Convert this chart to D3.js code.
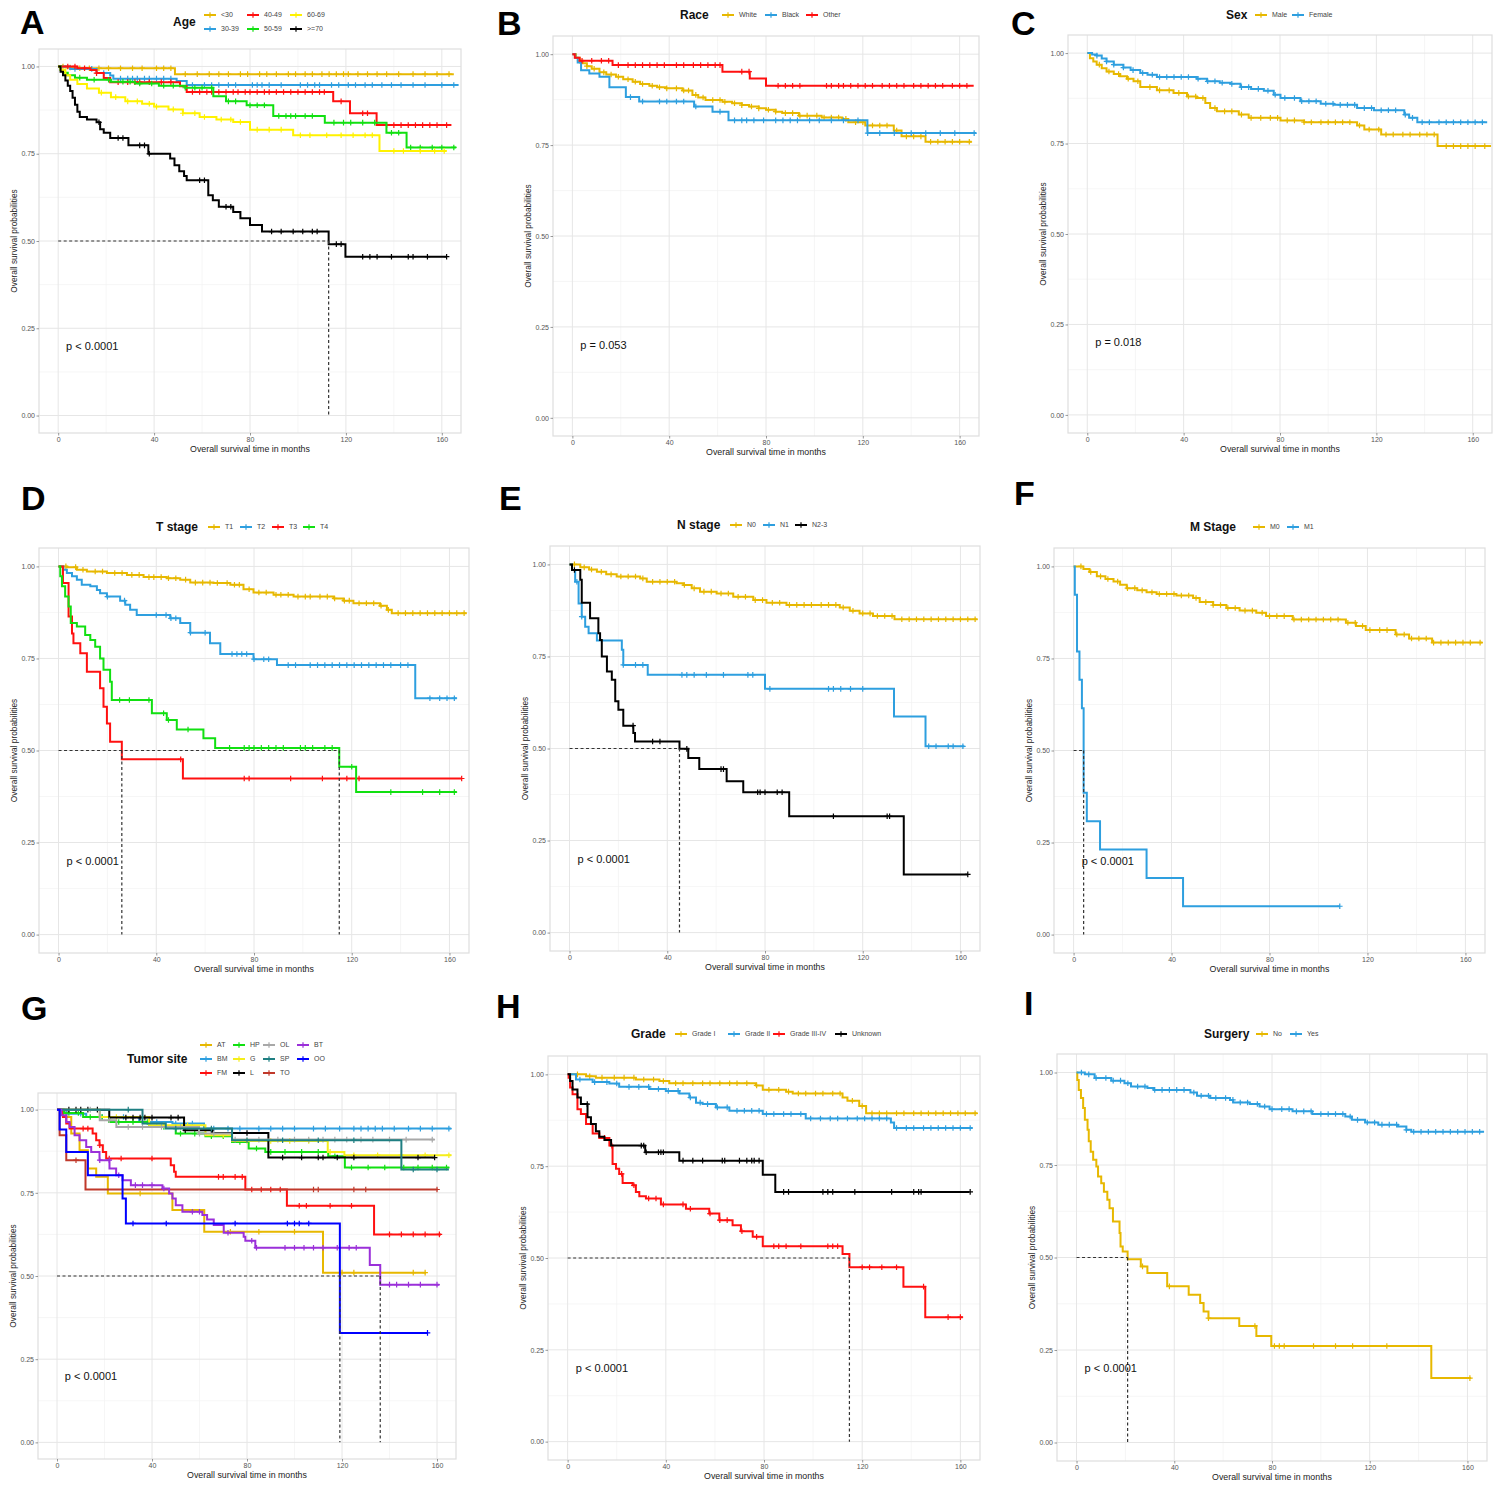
<!DOCTYPE html>
<html>
<head>
<meta charset="utf-8">
<script src="https://cdn.jsdelivr.net/npm/d3@7"></script>
<style>
body { margin:0; background:#fff; }
svg { font-family:"Liberation Sans", Arial, sans-serif; }
</style>
</head>
<body>
<svg id="fig" width="1502" height="1485"></svg>
<script>
// axis ticks shared by every panel
var xTicks = [0, 40, 80, 120, 160];
var xMinor = [20, 60, 100, 140];
var yTicks = [0, 0.25, 0.5, 0.75, 1];
var yMinor = [0.125, 0.375, 0.625, 0.875];
var xTitle = "Overall survival time in months";
var yTitle = "Overall survival probabilities";

// ---- A: Age ----
var ageLabels = ["<30", "30-39", "40-49", "50-59", "60-69", ">=70"];
var ageColors = ["#E7B800", "#2E9FDF", "#FF1010", "#11E011", "#FFF200", "#000000"];
var aLt30 = [[0,1],[3,0.997],[8,0.995],[48.7,0.978],[165,0.978]];
var a3039 = [[0,1],[5,0.993],[16,0.981],[21.7,0.974],[23,0.965],[49.4,0.958],[53.6,0.947],[167,0.947]];
var a4049 = [[0,1],[8,0.995],[13.5,0.99],[16,0.981],[19,0.967],[21.7,0.955],[50.8,0.943],[53.6,0.927],[114.7,0.9],[121.7,0.866],[132.8,0.832],[164,0.832]];
var a5059 = [[0,1],[1,0.99],[2,0.982],[4,0.975],[7,0.968],[12,0.962],[22,0.956],[32,0.951],[42,0.945],[53,0.939],[64.7,0.915],[70,0.9],[78.6,0.889],[89.7,0.858],[111.2,0.839],[136.9,0.81],[145.3,0.768],[166,0.768]];
var a6069 = [[0,1],[1,0.99],[3,0.975],[5,0.962],[8,0.95],[12,0.937],[17,0.925],[22,0.912],[28,0.9],[35,0.893],[40,0.885],[46,0.877],[52,0.866],[59,0.855],[66,0.848],[73,0.841],[80,0.819],[98,0.803],[134,0.758],[162,0.758]];
var a70 = [[0,1],[1,0.985],[2,0.975],[3,0.96],[4,0.945],[5,0.93],[6,0.91],[7,0.89],[8,0.87],[9,0.855],[12,0.848],[16,0.84],[17.5,0.82],[19,0.81],[21.7,0.795],[29.3,0.774],[37.6,0.75],[46.7,0.736],[48.5,0.717],[50.5,0.7],[52.5,0.686],[53.6,0.674],[62.6,0.631],[64.5,0.617],[67,0.598],[73,0.583],[76,0.565],[80,0.546],[85,0.527],[112.8,0.491],[119.8,0.455],[162,0.455]];
var aLt30Cens = [2,5,9,13,17,21,26,31,35,41,44,47,53,58,63,67,71,76,79,84,87,91,96,99,103,106,110,113,116,119,121,125,129,133,137,142,148,153,158,163];
var a3039Cens = [7,14,19,26,29,31,33,36,38,41,44,47,56,61,64,67,71,74,81,83,85,88,93,101,104,107,109,114,117,121,124,128,131,135,139,143,148,153,160,165];
var a4049Cens = [4,7,11,16,25,29,32,34,38,43,47,56,59,62,64,67,70,73,75,78,80,83,86,88,91,94,97,100,103,106,109,111,118,127,129,137,140,143,146,149,152,155,158,162];
var a5059Cens = [9,15,21,27,30,34,39,44,48,53,57,60,64,71,74,80,83,86,92,95,97,99,103,106,115,119,122,127,132,139,142,147,151,156,160,165];
var a6069Cens = [18,24,29,33,38,41,48,52,57,61,68,72,76,83,88,93,101,105,112,118,123,128,131,140,144,151,157,161];
var a70Cens = [17,25,27,34,36,38,59,61,70,72,89,93,98,102,106,108,116,118,127,130,133,139,146,148,154,162];

// ---- B: Race ----
var raceLabels = ["White", "Black", "Other"];
var raceColors = ["#E7B800", "#2E9FDF", "#FF1010"];
var bWhite = [[0,1],[1.5,0.99],[3,0.982],[4.3,0.975],[6,0.967],[8,0.96],[11.2,0.95],[14,0.944],[18,0.938],[21,0.931],[24.9,0.924],[28,0.918],[31.8,0.913],[35,0.909],[38.6,0.906],[45.5,0.9],[49.6,0.888],[52,0.881],[55,0.874],[62,0.869],[66,0.865],[70,0.86],[73,0.856],[77,0.851],[80,0.847],[84,0.842],[86.7,0.838],[93.6,0.831],[103,0.826],[111.5,0.822],[114,0.813],[121,0.804],[132.8,0.79],[136,0.774],[145.9,0.759],[165,0.759]];
var bBlack = [[0,1],[1.2,0.99],[2.2,0.977],[3.6,0.956],[7,0.947],[11.2,0.938],[15.3,0.909],[22.1,0.882],[27.6,0.87],[50.3,0.856],[57.9,0.842],[64.5,0.818],[121.9,0.783],[166.8,0.783]];
var bOther = [[0,1],[1,0.99],[3,0.982],[16.6,0.97],[62,0.952],[73.3,0.933],[80,0.913],[165.8,0.913]];
var bWhiteCens = [3,6,9,13,16,19,23,26,29,33,36,39,43,46,48,51,54,58,61,63,67,70,74,77,81,84,88,91,94,97,101,104,107,110,113,117,120,124,127,130,134,138,141,144,148,151,154,157,160,164];
var bBlackCens = [24,29,36,39,43,46,51,61,67,70,72,75,79,84,87,90,93,98,102,107,112,118,122,127,133,140,146,152,158,166];
var bOtherCens = [4,8,12,15,19,23,26,29,32,35,38,43,46,50,53,56,59,61,70,73,85,88,91,94,105,107,110,112,115,118,121,124,128,131,134,137,141,144,147,150,153,157,160,163];

// ---- C: Sex ----
var sexLabels = ["Male", "Female"];
var sexColors = ["#E7B800", "#2E9FDF"];
var cMale = [[0,1],[1.1,0.986],[2.5,0.977],[3.9,0.968],[6,0.958],[8,0.949],[11,0.942],[13.6,0.936],[16.5,0.929],[19.2,0.922],[22,0.906],[28.9,0.897],[35.8,0.89],[41.4,0.88],[45.5,0.876],[49,0.862],[51,0.848],[53.8,0.839],[62.9,0.83],[67,0.821],[80.2,0.814],[90,0.809],[112,0.8],[115,0.789],[122,0.775],[145.4,0.743],[167.6,0.743]];
var cFemale = [[0,1],[2,0.996],[3.9,0.993],[6,0.985],[8,0.977],[11,0.968],[15,0.96],[18,0.953],[22,0.945],[25,0.94],[28.9,0.934],[45.5,0.929],[49.7,0.922],[55,0.918],[59.4,0.915],[63.6,0.906],[68,0.901],[73.3,0.896],[77.4,0.885],[80.2,0.876],[88.5,0.867],[96.9,0.86],[102.4,0.857],[112,0.848],[119,0.842],[131.6,0.83],[133.6,0.821],[137,0.809],[166,0.809]];
var cMaleCens = [5,9,13,17,21,26,30,34,38,42,45,48,53,57,60,64,68,72,76,79,83,86,90,93,97,100,103,106,109,113,117,121,124,127,131,134,138,141,144,149,152,155,158,161,165];
var cFemaleCens = [4,8,11,15,19,23,27,30,33,36,39,42,46,50,53,56,60,64,67,71,75,78,82,86,89,92,95,99,102,105,108,111,115,118,122,125,128,132,135,139,142,146,149,152,155,158,161,164];

// ---- D: T stage ----
var tLabels = ["T1", "T2", "T3", "T4"];
var tColors = ["#E7B800", "#2E9FDF", "#FF1010", "#11E011"];
var dT1 = [[0,1],[3.4,0.998],[7.5,0.991],[11.6,0.986],[19.8,0.982],[28,0.977],[34.8,0.971],[44.3,0.968],[49.8,0.964],[53.9,0.956],[63.4,0.955],[70.3,0.95],[75.7,0.938],[79.8,0.929],[88,0.923],[96.2,0.918],[112.6,0.913],[116.6,0.907],[120.7,0.9],[131.6,0.893],[134.4,0.882],[136.4,0.873],[167,0.873]];
var dT2 = [[0,1],[2,0.991],[3.4,0.982],[5.5,0.973],[7.5,0.964],[9.5,0.95],[13,0.946],[15.7,0.936],[17,0.927],[19.8,0.918],[25.2,0.907],[27.3,0.896],[29.3,0.882],[32,0.868],[45.7,0.859],[49.8,0.846],[53.9,0.82],[62,0.791],[66.2,0.762],[79.8,0.748],[89.4,0.732],[146,0.642],[163,0.642]];
var dT3 = [[0,1],[1.8,0.955],[4.1,0.864],[5.5,0.818],[6.1,0.791],[8.9,0.764],[11.6,0.714],[17,0.669],[18.4,0.619],[19.8,0.573],[21.1,0.524],[25.9,0.476],[50.9,0.424],[165,0.424]];
var dT4 = [[0,1],[0.7,0.973],[1.4,0.946],[2.7,0.918],[4.1,0.891],[5,0.846],[7.5,0.837],[10.9,0.814],[13,0.8],[15,0.782],[17,0.75],[18.4,0.719],[21.1,0.687],[21.8,0.637],[38.2,0.601],[44.3,0.583],[48.4,0.557],[59.3,0.533],[64.1,0.507],[114.9,0.456],[121.8,0.387],[163,0.387]];
var dT1Cens = [3,7,10,15,18,23,26,30,33,37,39,42,45,48,52,56,59,62,65,69,72,74,78,82,85,89,91,94,98,101,103,107,110,113,117,119,123,126,129,132,135,139,142,145,148,151,154,157,160,163,166];
var dT2Cens = [20,27,40,44,46,48,54,60,71,73,75,77,80,84,86,94,97,103,106,109,112,115,118,121,124,127,130,133,136,140,143,152,156,159,162];
var dT3Cens = [50,76,78,95,108,118,123,165];
var dT4Cens = [25,29,37,43,45,53,70,76,78,80,83,86,89,92,99,101,104,109,112,120,136,149,156,162];

// ---- E: N stage ----
var nLabels = ["N0", "N1", "N2-3"];
var nColors = ["#E7B800", "#2E9FDF", "#000000"];
var eN0 = [[0,1],[4.4,0.992],[8,0.986],[11.2,0.98],[15,0.973],[19.3,0.967],[28.9,0.962],[31.6,0.953],[43.8,0.949],[46.6,0.944],[50,0.935],[53.4,0.926],[60.2,0.921],[67,0.912],[75.2,0.903],[80.6,0.896],[88.8,0.89],[110.6,0.883],[114.7,0.874],[118.7,0.867],[124.2,0.86],[133,0.851],[167,0.851]];
var eN1 = [[0,1],[1,0.985],[2.3,0.953],[3.7,0.894],[5,0.858],[6.4,0.831],[7.8,0.813],[11.2,0.793],[21.4,0.768],[22,0.727],[32,0.7],[80,0.662],[132.8,0.587],[145.7,0.506],[161.6,0.506]];
var eN23 = [[0,1],[1,0.985],[4.4,0.958],[5,0.896],[8.4,0.854],[11.8,0.813],[12.5,0.795],[13.2,0.75],[15.3,0.709],[17.3,0.687],[18.7,0.628],[20,0.605],[22,0.562],[26.1,0.542],[26.8,0.519],[45,0.499],[48.6,0.474],[53.1,0.444],[64.3,0.411],[71.1,0.381],[89.9,0.316],[136.8,0.158],[163,0.158]];
var eN0Cens = [2,6,9,13,17,21,24,27,30,34,37,40,43,47,51,55,58,62,65,69,72,76,79,83,86,90,93,96,99,103,106,109,112,116,120,123,126,129,132,136,139,142,145,148,151,154,157,160,163,166];
var eN1Cens = [3,5,22,27,30,46,48,51,56,63,73,75,82,106,108,111,115,120,147,150,155,157,161];
var eN23Cens = [2,26,34,37,48,62,63,77,78,80,85,87,108,130,131,163];

// ---- F: M stage ----
var mLabels = ["M0", "M1"];
var mColors = ["#E7B800", "#2E9FDF"];
var fM0 = [[0,1],[4,0.993],[6.5,0.985],[9.5,0.973],[13,0.966],[16.3,0.959],[19,0.95],[21.7,0.941],[26,0.935],[29.8,0.93],[33.9,0.925],[42,0.921],[48.8,0.914],[51.5,0.903],[57,0.895],[62.4,0.887],[67.8,0.88],[74.6,0.874],[78.6,0.865],[89.5,0.856],[111.2,0.847],[115.3,0.838],[119.3,0.827],[131.5,0.815],[137,0.804],[146.4,0.793],[167,0.793]];
var fM1 = [[0,1],[0.5,0.923],[1.4,0.769],[2.4,0.692],[3.4,0.615],[4.1,0.385],[5.4,0.308],[10.8,0.231],[29.8,0.154],[44.7,0.077],[108.7,0.077]];
var fM0Cens = [3,7,11,14,18,22,25,28,32,35,38,41,44,47,50,54,57,60,63,66,70,73,77,80,83,86,90,93,96,99,102,105,108,112,115,118,121,125,128,132,135,138,141,144,147,150,153,156,159,162,166];
var fM1Cens = [108.7];

// ---- G: Tumor site ----
var siteLabels = ["AT", "BM", "FM", "HP", "G", "L", "OL", "SP", "TO", "BT", "OO"];
var siteColors = ["#E7B800", "#2E9FDF", "#FF1010", "#11E011", "#F5EE1A", "#000000", "#A8A8A8", "#1F7F82", "#C0392B", "#9B30D9", "#0000FF"];
var gAT = [[0,1],[4,0.978],[6,0.928],[9.5,0.878],[13,0.823],[16.5,0.798],[21.4,0.748],[48.6,0.698],[62,0.633],[112,0.51],[155.4,0.51]];
var gBM = [[0,1],[4,0.988],[12.3,0.978],[34.6,0.963],[48.6,0.958],[61.9,0.943],[166,0.943]];
var gFM = [[0,1],[2.5,0.978],[3.9,0.958],[5.3,0.943],[15,0.928],[16.5,0.908],[17.9,0.893],[19.3,0.873],[20.7,0.853],[47.9,0.833],[49.3,0.813],[50,0.798],[79.3,0.76],[96.8,0.711],[133.5,0.625],[161.7,0.625]];
var gHP = [[0,1],[3,0.99],[11,0.978],[22,0.963],[38.8,0.948],[50,0.928],[62.5,0.92],[73.7,0.903],[80.7,0.883],[87.7,0.873],[114.2,0.86],[121.2,0.826],[165.2,0.826]];
var gG = [[0,1],[18,0.978],[38.8,0.953],[62.5,0.923],[73.7,0.906],[114,0.873],[121,0.863],[166,0.863]];
var gL = [[0,1],[22,0.976],[53.5,0.938],[65.3,0.93],[89,0.856],[159,0.856]];
var gOL = [[0,1],[18,0.968],[25,0.948],[59.8,0.928],[73.7,0.91],[159,0.91]];
var gSP = [[0,1],[36,0.958],[45.8,0.943],[73.7,0.908],[145,0.82],[165,0.82]];
var gTO = [[0,1],[1.1,0.923],[3.9,0.848],[12,0.76],[160.3,0.76]];
var gBT = [[0,1],[1.8,0.983],[3.9,0.963],[5.3,0.948],[7.4,0.923],[9.5,0.908],[12.3,0.888],[14.4,0.873],[17.9,0.848],[22.1,0.823],[24.9,0.803],[27.6,0.788],[31.1,0.773],[44.4,0.763],[47.2,0.748],[48.6,0.733],[50,0.713],[52.8,0.693],[61.2,0.683],[63.2,0.67],[66,0.653],[70.2,0.63],[78.6,0.618],[79.3,0.606],[83.5,0.585],[131.7,0.533],[136.1,0.474],[161,0.474]];
var gOO = [[0,1],[1.1,0.94],[3.9,0.873],[13,0.803],[27.6,0.733],[29,0.658],[119.1,0.329],[156,0.329]];
var gATCens = [35,73,85,100,120,125,150,155];
var gBMCens = [10,19,28,42,50,57,66,72,77,85,90,95,100,108,113,119,125,128,131,134,137,142,148,153,158,165];
var gFMCens = [11,13,18,22,27,40,68,70,75,78,82,86,90,94,102,105,115,124,140,145,150,155,161];
var gHPCens = [5,9,14,19,26,32,38,45,52,58,65,70,77,84,90,96,103,110,117,124,131,138,146,152,158,164];
var gGCens = [25,45,55,70,80,90,98,106,115,125,135,145,155,165];
var gLCens = [5,8,10,13,17,29,32,35,37,40,48,51,54,65,80,95,103,110,112,118,125,152,159];
var gOLCens = [14,22,30,36,44,52,60,66,75,85,93,100,106,112,117,122,128,133,140,147,158];
var gSPCens = [30,50,65,80,95,110,125,150,160];
var gTOCens = [8,108,110,125,130,160];
var gBTCens = [18,22,26,33,36,40,45,57,60,72,82,84,96,100,104,108,112,118,123,126,140,143,148,153,160];
var gOOCens = [32,46,75,97,100,102,106,156];

// ---- H: Grade ----
var gradeLabels = ["Grade I", "Grade II", "Grade III-IV", "Unknown"];
var gradeColors = ["#E7B800", "#2E9FDF", "#FF1010", "#000000"];
var hG1 = [[0,1],[7.5,0.995],[11.5,0.991],[27.8,0.986],[37.4,0.982],[41.4,0.976],[76.7,0.97],[79.5,0.958],[89,0.953],[91.7,0.948],[112,0.937],[114,0.928],[118.8,0.914],[121.6,0.894],[167,0.894]];
var hG2 = [[0,1],[3.4,0.986],[10.2,0.979],[17,0.975],[21,0.966],[33.3,0.96],[40,0.955],[45.5,0.948],[49.6,0.937],[52.3,0.923],[55,0.919],[60.4,0.91],[65.9,0.901],[79.5,0.892],[97,0.88],[131.7,0.869],[133,0.854],[165,0.854]];
var hG34 = [[0,1],[0.4,0.991],[1,0.964],[2,0.946],[4,0.905],[5.4,0.892],[7.5,0.865],[10.2,0.839],[12.9,0.827],[17,0.806],[18.3,0.756],[19.7,0.743],[21,0.729],[22.4,0.704],[26.5,0.698],[27.8,0.68],[29.2,0.668],[31.9,0.662],[38,0.646],[48.2,0.634],[57.7,0.621],[61.8,0.603],[67.2,0.589],[70.6,0.573],[75.4,0.558],[79.5,0.532],[112,0.511],[114.8,0.475],[136.8,0.422],[145.7,0.339],[161,0.339]];
var hUnk = [[0,1],[1,0.982],[2,0.959],[4,0.937],[5.4,0.919],[8.1,0.883],[9.5,0.865],[11.5,0.845],[12.9,0.83],[15,0.821],[17.7,0.806],[31.6,0.788],[45.5,0.765],[79.5,0.727],[84.6,0.68],[163.7,0.68]];
var hG1Cens = [4,9,14,19,23,27,31,35,39,44,47,51,55,58,62,66,69,73,77,82,86,90,94,97,101,104,108,111,116,120,124,127,130,134,137,141,144,147,150,153,156,159,162,166];
var hG2Cens = [5,11,16,20,25,29,33,37,41,45,50,54,57,61,65,69,72,75,78,81,84,88,91,95,99,103,107,110,114,118,121,124,127,130,134,138,141,145,148,151,154,157,160,164];
var hG34Cens = [15,18,22,27,33,36,39,47,50,58,62,65,71,77,84,86,89,95,106,108,110,120,123,128,134,145,155,160];
var hUnkCens = [8,30,31,32,37,38,39,47,51,55,63,64,70,73,75,76,78,88,90,104,106,108,117,132,141,143,144,164];

// ---- I: Surgery ----
var surgLabels = ["No", "Yes"];
var surgColors = ["#E7B800", "#2E9FDF"];
var iNo = [[0,1],[0.3,0.98],[0.9,0.953],[1.8,0.931],[2.7,0.904],[3.4,0.872],[4.5,0.845],[5,0.814],[5.8,0.786],[6.8,0.764],[8.1,0.746],[8.8,0.719],[10.1,0.701],[11.2,0.678],[12.6,0.656],[13.5,0.633],[14.9,0.597],[17.6,0.566],[18,0.53],[18.9,0.516],[20.9,0.495],[26.3,0.476],[29,0.458],[37.1,0.422],[45.9,0.399],[50.6,0.377],[52,0.354],[54,0.336],[66.6,0.315],[73.6,0.288],[79.7,0.261],[145.2,0.174],[161.4,0.174]];
var iYes = [[0,1],[3.4,0.995],[7.4,0.985],[14.2,0.978],[19.6,0.971],[22.3,0.962],[29,0.958],[31.7,0.953],[46.6,0.946],[49.3,0.937],[54.7,0.931],[62.8,0.926],[64.1,0.919],[70.9,0.915],[74.9,0.908],[79,0.901],[88.4,0.895],[96.5,0.888],[110,0.881],[112.7,0.872],[118.1,0.865],[123.5,0.859],[131.6,0.854],[135,0.845],[137,0.84],[166.8,0.84]];
var iNoCens = [27,38,54,73,81,83,85,97,106,113,127,161];
var iYesCens = [2,5,8,12,15,18,21,25,28,32,35,38,41,44,48,51,54,57,61,64,67,70,74,77,80,84,87,90,93,96,100,103,106,109,112,115,119,122,125,128,131,135,138,141,144,147,150,153,156,159,162,165];

// layout of the nine panels (pixel boxes and legend placement)
var panels = [
  {letter:"A", lx:20, ly:34, rect:[39,49,461,433], title:"Age", tx:173, ty:22, keyX:[204,247,290], keyY:[15,29],
   labels:ageLabels, colors:ageColors, curves:[aLt30,a3039,a4049,a5059,a6069,a70],
   cens:[aLt30Cens,a3039Cens,a4049Cens,a5059Cens,a6069Cens,a70Cens], pval:"p < 0.0001", medians:[112.8]},
  {letter:"B", lx:497, ly:35, rect:[553,36,979,436], title:"Race", tx:680, ty:15, keyX:[722,765,806], keyY:[15],
   labels:raceLabels, colors:raceColors, curves:[bWhite,bBlack,bOther],
   cens:[bWhiteCens,bBlackCens,bOtherCens], pval:"p = 0.053", medians:[]},
  {letter:"C", lx:1011, ly:35, rect:[1068,35,1492,433], title:"Sex", tx:1226, ty:15, keyX:[1255,1292], keyY:[15],
   labels:sexLabels, colors:sexColors, curves:[cMale,cFemale],
   cens:[cMaleCens,cFemaleCens], pval:"p = 0.018", medians:[]},
  {letter:"D", lx:21, ly:510, rect:[39,548,469,953], title:"T stage", tx:156, ty:527, keyX:[208,240,272,303], keyY:[527],
   labels:tLabels, colors:tColors, curves:[dT1,dT2,dT3,dT4],
   cens:[dT1Cens,dT2Cens,dT3Cens,dT4Cens], pval:"p < 0.0001", medians:[25.9,114.9]},
  {letter:"E", lx:499, ly:510, rect:[550,546,980,951], title:"N stage", tx:677, ty:525, keyX:[730,763,795], keyY:[525],
   labels:nLabels, colors:nColors, curves:[eN0,eN1,eN23],
   cens:[eN0Cens,eN1Cens,eN23Cens], pval:"p < 0.0001", medians:[45]},
  {letter:"F", lx:1014, ly:505, rect:[1054,548,1485,953], title:"M Stage", tx:1190, ty:527, keyX:[1253,1287], keyY:[527],
   labels:mLabels, colors:mColors, curves:[fM0,fM1],
   cens:[fM0Cens,fM1Cens], pval:"p < 0.0001", medians:[4.1]},
  {letter:"G", lx:21, ly:1020, rect:[38,1093,456,1459], title:"Tumor site", tx:127, ty:1059, keyX:[200,233,263,297], keyY:[1045,1059,1073],
   labels:siteLabels, colors:siteColors, curves:[gAT,gBM,gFM,gHP,gG,gL,gOL,gSP,gTO,gBT,gOO],
   cens:[gATCens,gBMCens,gFMCens,gHPCens,gGCens,gLCens,gOLCens,gSPCens,gTOCens,gBTCens,gOOCens], pval:"p < 0.0001", medians:[119.1,136.1]},
  {letter:"H", lx:496, ly:1018, rect:[548,1056,980,1460], title:"Grade", tx:631, ty:1034, keyX:[675,728,773,835], keyY:[1034],
   labels:gradeLabels, colors:gradeColors, curves:[hG1,hG2,hG34,hUnk],
   cens:[hG1Cens,hG2Cens,hG34Cens,hUnkCens], pval:"p < 0.0001", medians:[114.8]},
  {letter:"I", lx:1024, ly:1015, rect:[1057,1054,1487,1461], title:"Surgery", tx:1204, ty:1034, keyX:[1256,1290], keyY:[1034],
   labels:surgLabels, colors:surgColors, curves:[iNo,iYes],
   cens:[iNoCens,iYesCens], pval:"p < 0.0001", medians:[20.9]}
];

var svg = d3.select("#fig");
var bis = d3.bisector(function(d) { return d[0]; }).right;
function survAt(curve, t) {
  var i = bis(curve, t) - 1;
  return curve[Math.max(0, i)][1];
}
function plusPath(h) { return "M" + (-h) + ",0H" + h + "M0," + (-h) + "V" + h; }

panels.forEach(drawPanel);

function drawPanel(p) {
  var r = p.rect;
  var x = d3.scaleLinear().domain([-8, 168]).range([r[0], r[2]]);
  var y = d3.scaleLinear().domain([-0.05, 1.05]).range([r[3], r[1]]);
  var g = svg.append("g");

  // panel background grid
  g.selectAll(".vmin").data(xMinor).enter().append("line")
    .attr("x1", x).attr("x2", x).attr("y1", r[1]).attr("y2", r[3])
    .attr("stroke", "#f2f2f2").attr("stroke-width", 0.7);
  g.selectAll(".hmin").data(yMinor).enter().append("line")
    .attr("x1", r[0]).attr("x2", r[2]).attr("y1", y).attr("y2", y)
    .attr("stroke", "#f2f2f2").attr("stroke-width", 0.7);
  g.selectAll(".vmaj").data(xTicks).enter().append("line")
    .attr("x1", x).attr("x2", x).attr("y1", r[1]).attr("y2", r[3])
    .attr("stroke", "#e6e6e6").attr("stroke-width", 1);
  g.selectAll(".hmaj").data(yTicks).enter().append("line")
    .attr("x1", r[0]).attr("x2", r[2]).attr("y1", y).attr("y2", y)
    .attr("stroke", "#e6e6e6").attr("stroke-width", 1);
  g.append("rect").attr("x", r[0]).attr("y", r[1])
    .attr("width", r[2] - r[0]).attr("height", r[3] - r[1])
    .attr("fill", "none").attr("stroke", "#dedede").attr("stroke-width", 1.2);

  // axes
  var ax = g.append("g").attr("transform", "translate(0," + r[3] + ")")
    .call(d3.axisBottom(x).tickValues(xTicks).tickSize(2.5).tickPadding(2));
  var ay = g.append("g").attr("transform", "translate(" + r[0] + ",0)")
    .call(d3.axisLeft(y).tickValues(yTicks).tickFormat(d3.format(".2f")).tickSize(2.5).tickPadding(1.5));
  [ax, ay].forEach(function(a) {
    a.select(".domain").remove();
    a.selectAll("line").attr("stroke", "#555").attr("stroke-width", 0.6);
    a.selectAll("text").attr("fill", "#555").style("font-size", "7px")
      .style("font-family", "'Liberation Sans', Arial, sans-serif");
  });
  g.append("text").attr("x", (r[0] + r[2]) / 2).attr("y", r[3] + 19)
    .attr("text-anchor", "middle").attr("fill", "#222").style("font-size", "8.8px").text(xTitle);
  g.append("text").attr("transform", "translate(" + (r[0] - 22) + "," + ((r[1] + r[3]) / 2) + ") rotate(-90)")
    .attr("text-anchor", "middle").attr("fill", "#222").style("font-size", "8.3px").text(yTitle);

  // survival curves
  var line = d3.line().x(function(d) { return x(d[0]); }).y(function(d) { return y(d[1]); })
    .curve(d3.curveStepAfter);
  p.curves.forEach(function(c, i) {
    g.append("path").datum(c).attr("d", line).attr("fill", "none")
      .attr("stroke", p.colors[i]).attr("stroke-width", 2);
    g.selectAll(null).data(p.cens[i]).enter().append("path")
      .attr("transform", function(t) { return "translate(" + x(t) + "," + y(survAt(c, t)) + ")"; })
      .attr("d", plusPath(2.8)).attr("stroke", p.colors[i]).attr("stroke-width", 1.2).attr("fill", "none");
  });

  // median survival lines
  if (p.medians.length) {
    g.append("line").attr("x1", x(0)).attr("x2", x(d3.max(p.medians)))
      .attr("y1", y(0.5)).attr("y2", y(0.5))
      .attr("stroke", "#333").attr("stroke-width", 1.2).attr("stroke-dasharray", "3,2.5");
    g.selectAll(null).data(p.medians).enter().append("line")
      .attr("x1", x).attr("x2", x).attr("y1", y(0.5)).attr("y2", y(0))
      .attr("stroke", "#333").attr("stroke-width", 1.2).attr("stroke-dasharray", "3,2.5");
  }

  // p value
  g.append("text").attr("x", x(3.3)).attr("y", y(0.2)).attr("dy", "0.35em")
    .attr("fill", "#111").style("font-size", "11px").text(p.pval);

  // panel letter
  g.append("text").attr("x", p.lx).attr("y", p.ly).attr("fill", "#000")
    .style("font-size", "34px").style("font-weight", "bold").text(p.letter);

  // legend
  g.append("text").attr("x", p.tx).attr("y", p.ty).attr("dy", "0.35em")
    .attr("fill", "#111").style("font-size", "12px").style("font-weight", "bold").text(p.title);
  var nrow = p.keyY.length;
  p.labels.forEach(function(lab, i) {
    var kx = p.keyX[Math.floor(i / nrow)], ky = p.keyY[i % nrow];
    g.append("line").attr("x1", kx).attr("x2", kx + 12).attr("y1", ky).attr("y2", ky)
      .attr("stroke", p.colors[i]).attr("stroke-width", 2);
    g.append("path").attr("transform", "translate(" + (kx + 6) + "," + ky + ")")
      .attr("d", plusPath(2.8)).attr("stroke", p.colors[i]).attr("stroke-width", 1.2);
    g.append("text").attr("x", kx + 17).attr("y", ky).attr("dy", "0.35em")
      .attr("fill", "#444").style("font-size", "7px").text(lab);
  });
}
</script>
</body>
</html>
